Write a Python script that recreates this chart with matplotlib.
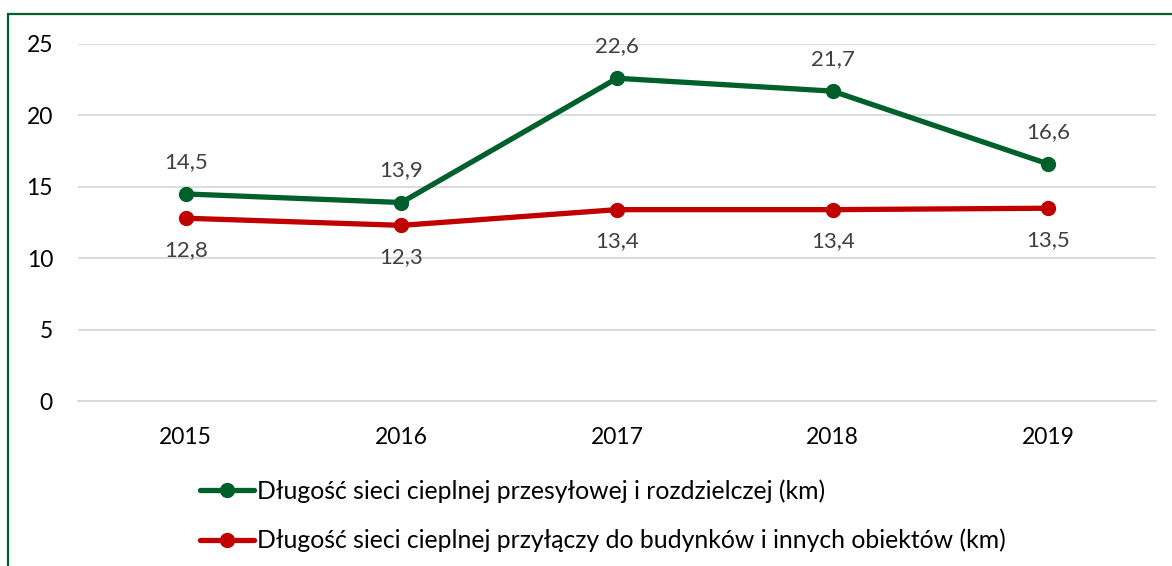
import matplotlib
matplotlib.use("Agg")
import matplotlib.pyplot as plt
from matplotlib.patches import Rectangle

years = ["2015", "2016", "2017", "2018", "2019"]
siec_przesylowa = [14.5, 13.9, 22.6, 21.7, 16.6]
przylacza = [12.8, 12.3, 13.4, 13.4, 13.5]
labels = ["Długość sieci cieplnej przesyłowej i rozdzielczej (km)",
          "Długość sieci cieplnej przyłączy do budynków i innych obiektów (km)"]
green = "#00602B"
red = "#C00000"

plt.rcParams['font.family'] = ['Lato', 'DejaVu Sans']

fig = plt.figure(figsize=(11.72, 5.66), dpi=100)
ax = fig.add_axes([78/1172, 1-401/566, (1156-78)/1172, (401-44)/566])

x = list(range(len(years)))
ax.plot(x, siec_przesylowa, color=green, lw=3.8, marker='o', ms=10, label=labels[0],
        solid_capstyle='round')
ax.plot(x, przylacza, color=red, lw=3.8, marker='o', ms=10, label=labels[1],
        solid_capstyle='round')

for xi, v in zip(x, siec_przesylowa):
    ax.annotate(f"{v:.1f}".replace('.', ','), (xi, v), xytext=(0, 23), textcoords='offset points',
                ha='center', va='center', fontsize=16, color='#404040')
for xi, v in zip(x, przylacza):
    ax.annotate(f"{v:.1f}".replace('.', ','), (xi, v), xytext=(0, -23), textcoords='offset points',
                ha='center', va='center', fontsize=16, color='#404040')

ax.set_xlim(-0.5, 4.5)
ax.set_ylim(0, 25)
ax.set_yticks([0, 5, 10, 15, 20, 25])
ax.set_xticks(x)
ax.set_xticklabels(years)
ax.tick_params(axis='both', length=0, labelsize=16.5, colors='black')
ax.tick_params(axis='y', pad=18)
ax.tick_params(axis='x', pad=19)
ax.grid(axis='y', color='#d9d9d9', lw=1.3)
ax.set_axisbelow(True)
for s in ['top', 'right', 'left']:
    ax.spines[s].set_visible(False)
ax.spines['bottom'].set_color('#d9d9d9')
ax.spines['bottom'].set_linewidth(1.3)

leg = fig.legend(loc='upper left', bbox_to_anchor=(200/1172, 1-479/566), frameon=False,
                 fontsize=17.8, handlelength=2.2, handletextpad=0.1, labelspacing=1.06,
                 borderpad=0, borderaxespad=0)
for t in leg.get_texts():
    t.set_color('black')

fig.patches.append(Rectangle((8/1172, -0.05), 1.2, 1-14/566+0.05, transform=fig.transFigure,
                             fill=False, edgecolor=green, lw=1.6))

fig.savefig("out.png", dpi=100)
